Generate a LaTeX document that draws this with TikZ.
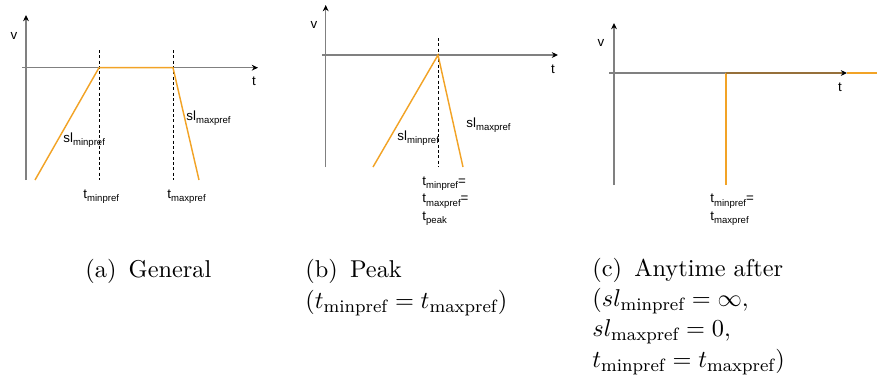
\documentclass[tikz,border=0pt]{standalone}
\usepackage{amsmath,amssymb}
\usepackage{fontspec}
\usepackage{xcolor}
\usetikzlibrary{arrows.meta}
\newfontfamily\plotfont{Liberation Sans}
\definecolor{prefline}{RGB}{242,163,38}
\definecolor{prefaxis}{RGB}{150,112,58}
\newcommand{\lsub}[2]{#1\raisebox{-0.45ex}{\fontsize{4.3}{5}\selectfont #2}}

\begin{document}
\begin{tikzpicture}[x=0.45pt,y=-0.45pt,
  axis/.style={draw=black!50,line width=0.55pt,-{Stealth[black,length=2.8pt,width=2.6pt]}},
  pref/.style={draw=prefline,line width=0.65pt},
  guide/.style={draw=black,line width=0.35pt,dash pattern=on 1.3pt off 1.1pt},
  lab/.style={font=\plotfont\fontsize{6}{7.7}\selectfont,inner sep=0pt,align=left},
  subcap/.style={font=\fontsize{10.95}{13.6}\selectfont,inner sep=0pt,align=left,anchor=base west}]
\useasboundingbox (0,0) rectangle (877,376);
%% (a) general
\coordinate (ya0) at (26,180); \coordinate (ya1) at (26,15);
\coordinate (xa0) at (22,67.7); \coordinate (xa1) at (258,67.7);
\coordinate (mina) at (99,67.7); \coordinate (maxa) at (173,67.7);
\draw[axis](ya0)--(ya1);
\draw[axis](xa0)--(xa1);
\draw[guide](99,50)--(99,180)
(173,50)--(173,180);
\draw[pref](35,180)--(mina)--(maxa)--(199,180);
\node[lab] (va) at (14,36) {v};
\node[lab] (ta) at (254,81) {t};
\node[lab,anchor=base west] (slmina) at (63,142) {\lsub{sl}{minpref}};
\node[lab,anchor=base west] (slmaxa) at (186,120) {\lsub{sl}{maxpref}};
\node[lab,anchor=base west] (tmina) at (83,198) {\lsub{t}{minpref}};
\node[lab,anchor=base west] (tmaxa) at (167,198) {\lsub{t}{maxpref}};
\node[subcap] (capa) at (85,277) {(a)\enskip General};
%% (b) peak
\coordinate (yb0) at (325.7,167); \coordinate (yb1) at (325.7,5);
\coordinate (xb0) at (322,55); \coordinate (xb1) at (558,55);
\coordinate (peak) at (438,55);
\draw[axis](yb0)--(yb1);
\draw[axis](xb0)--(xb1);
\draw[guide](438,38)--(438,167);
\draw[pref](373,167)--(peak)--(463,167);
\node[lab] (vb) at (314,25) {v};
\node[lab] (tb) at (553,69) {t};
\node[lab,anchor=base west] (slminb) at (397,140) {\lsub{sl}{minpref}};
\node[lab,anchor=base west] (slmaxb) at (466,127) {\lsub{sl}{maxpref}};
\node[lab,anchor=base west] (tpeak) at (422,220) {\lsub{t}{minpref}=\\\lsub{t}{maxpref}=\\\lsub{t}{peak}};
\node[subcap] (capb) at (305,308) {(b)\enskip Peak\\$(t_{\mathrm{minpref}}=t_{\mathrm{maxpref}})$};
%% (c) anytime after
\coordinate (yc0) at (614,185); \coordinate (yc1) at (614,23);
\coordinate (xc0) at (609,73); \coordinate (xc1) at (847,73);
\coordinate (drop) at (726,73); \coordinate (dropb) at (726,185);
\coordinate (xtip) at (842,73); \coordinate (xend) at (877,73);
\draw[axis](yc0)--(yc1);
\draw[axis](xc0)--(xc1);
\draw[pref](dropb)--(drop);
\draw[pref,draw=prefaxis](drop)--(xtip);
\draw[pref](xc1)--(xend);
\node[lab] (vc) at (601,43) {v};
\node[lab] (tc) at (840,87) {t};
\node[lab,anchor=base west] (tminc) at (710,220) {\lsub{t}{minpref}=\\\lsub{t}{maxpref}};
\node[subcap] (capc) at (592,367) {(c)\enskip Anytime after\\$(sl_{\mathrm{minpref}}=\infty,$\\$sl_{\mathrm{maxpref}}=0,$\\$t_{\mathrm{minpref}}=t_{\mathrm{maxpref}})$};
\end{tikzpicture}
\end{document}
